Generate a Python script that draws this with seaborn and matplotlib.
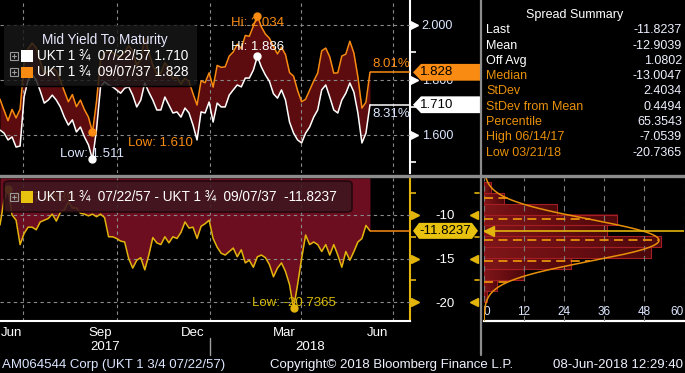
import numpy as np
import pandas as pd
import matplotlib
matplotlib.use("Agg")
import matplotlib.pyplot as plt
from matplotlib.patches import Polygon, FancyBboxPatch, Rectangle
from matplotlib.lines import Line2D
from matplotlib.colors import LinearSegmentedColormap
from matplotlib.ticker import FixedLocator, MultipleLocator
import seaborn as sns

# ---------------- data ----------------
first_date = "2017-06-08"
last_date = "2018-06-08"

ukt_2057 = [1.618, 1.607, 1.582, 1.593, 1.556, 1.560, 1.740, 1.800, 1.820, 1.800,
            1.760, 1.716, 1.727, 1.745, 1.727, 1.702, 1.665, 1.636, 1.655, 1.611,
            1.629, 1.593, 1.564, 1.511, 1.620, 1.775, 1.793, 1.782, 1.775, 1.764,
            1.752, 1.770, 1.775, 1.745, 1.702, 1.727, 1.789, 1.756, 1.727, 1.691,
            1.691, 1.738, 1.709, 1.680, 1.684, 1.665, 1.698, 1.680, 1.636, 1.582,
            1.684, 1.680, 1.720, 1.647, 1.716, 1.702, 1.702, 1.745, 1.764, 1.782,
            1.775, 1.807, 1.807, 1.836, 1.886, 1.847, 1.818, 1.795, 1.750, 1.734,
            1.764, 1.727, 1.647, 1.607, 1.582, 1.571, 1.607, 1.629, 1.665, 1.691,
            1.764, 1.782, 1.738, 1.691, 1.680, 1.727, 1.752, 1.789, 1.756, 1.680,
            1.571, 1.607, 1.710]

ukt_2037 = [1.730, 1.690, 1.652, 1.693, 1.662, 1.694, 1.861, 1.914, 1.934, 1.917,
            1.868, 1.822, 1.831, 1.844, 1.834, 1.799, 1.759, 1.721, 1.747, 1.703,
            1.727, 1.692, 1.665, 1.610, 1.722, 1.874, 1.896, 1.907, 1.900, 1.891,
            1.882, 1.901, 1.925, 1.906, 1.854, 1.876, 1.952, 1.902, 1.853, 1.823,
            1.825, 1.863, 1.841, 1.805, 1.811, 1.785, 1.806, 1.795, 1.750, 1.709,
            1.797, 1.790, 1.826, 1.774, 1.853, 1.846, 1.848, 1.887, 1.902, 1.930,
            1.915, 1.962, 1.959, 1.996, 2.034, 1.993, 1.967, 1.952, 1.921, 1.895,
            1.919, 1.892, 1.827, 1.814, 1.762, 1.721, 1.730, 1.763, 1.796, 1.825,
            1.906, 1.916, 1.884, 1.825, 1.826, 1.887, 1.894, 1.941, 1.898, 1.811,
            1.698, 1.719, 1.828]

spread_bp = [-11.15, -8.3, -7.0539, -10.0, -10.6, -13.4, -12.1, -11.4, -11.4, -11.7,
             -10.8, -10.6, -10.4, -9.9, -10.7, -9.7, -9.4, -8.5, -9.2, -9.2,
             -9.8, -9.9, -10.1, -9.9, -10.2, -9.9, -10.3, -12.5, -12.5, -12.7,
             -13.0, -13.1, -15.0, -16.1, -15.2, -14.9, -16.3, -14.6, -12.6, -13.2,
             -13.4, -12.5, -13.2, -12.5, -12.7, -12.0, -10.8, -11.5, -11.4, -12.7,
             -11.3, -11.0, -10.6, -12.7, -13.7, -14.4, -14.6, -14.2, -13.8, -14.8,
             -14.0, -15.5, -15.2, -16.0, -14.8, -14.6, -14.9, -15.7, -17.1, -16.1,
             -15.5, -16.5, -18.0, -20.7365, -18.0, -15.0, -12.3, -13.4, -13.1, -13.4,
             -14.2, -13.4, -14.6, -13.4, -14.6, -16.0, -14.2, -15.2, -14.2, -13.1,
             -12.7, -11.2, -11.8237]

hist_edges = [-19.95, -18.7, -17.45, -16.2, -14.95, -13.7, -12.45, -11.2, -9.95, -8.7, -7.45, -6.2]
hist_counts = [1, 4, 12, 26, 50, 53, 37, 40, 22, 6, 2]

spread_mean = -12.9039
spread_sd = 2.4034
spread_last = -11.8237

summary_labels = ["Last", "Mean", "Off Avg", "Median", "StDev", "StDev from Mean",
                  "Percentile", "High 06/14/17", "Low 03/21/18"]
summary_values = ["-11.8237", "-12.9039", "1.0802", "-13.0047", "2.4034", "0.4494",
                  "65.3543", "-7.0539", "-20.7365"]
summary_is_orange = [False, False, False, True, True, True, True, True, True]

pct_2037 = "8.01%"
pct_2057 = "8.31%"

month_label_dates = ["2017-06-19", "2017-09-15", "2017-12-15", "2018-03-15", "2018-06-15"]
month_labels = ["Jun", "Sep", "Dec", "Mar", "Jun"]
year_labels = ["2017", "2018"]
yield_ticks = [1.6, 1.8, 2.0]
yield_ticklabels = ["1.600", "1.800", "2.000"]
yield_minor = [1.5, 1.7, 1.9]
spread_ticks = [-20, -15, -10]
spread_ticklabels = ["-20", "-15", "-10"]
spread_minor = [-17.5, -12.5, -7.5]
count_ticks = [0, 12, 24, 36, 48, 60]

legend_title = "Mid Yield To Maturity"
legend_57 = "UKT 1 \u00be  07/22/57 1.710"
legend_37 = "UKT 1 \u00be  09/07/37 1.828"
legend_spread = "UKT 1 \u00be  07/22/57 - UKT 1 \u00be  09/07/37  -11.8237"

# ---------------- style ----------------
ORANGE = "#f98b12"
YELLOW = "#e2b40c"
YBOX = "#e8c20e"
FILL_TOP = "#5c0c0e"
MAROON = "#6c0e1f"
GRID = "#8a8a8a"
LBLUE = "#dce6ff"
TORANGE = "#e8900a"
SEP = "#8c8c8c"

sns.set_theme(style="dark", rc={
    "figure.facecolor": "black", "axes.facecolor": "black", "savefig.facecolor": "black",
    "text.color": "white", "axes.labelcolor": "white", "xtick.color": "white",
    "ytick.color": "white", "axes.edgecolor": "white", "axes.grid": False,
})
plt.rcParams["font.family"] = ["Liberation Sans", "DejaVu Sans"]
FS = 9
FSL = 9.8   # legend text
FSF = 9.5   # footer / annotations

W, H = 685, 373
fig = plt.figure(figsize=(W / 100, H / 100), dpi=100, facecolor="black")


def fx(p):
    return p / W


def fy(p):
    return 1 - p / H


AXW = 410.0
ax_top = fig.add_axes([0, fy(173), fx(AXW), 173 / H])
ax_bot = fig.add_axes([0, fy(321), fx(AXW), (321 - 178) / H])
ax_hist = fig.add_axes([fx(484), fy(321), fx(684) - fx(484), (321 - 178) / H])
for ax in (ax_top, ax_bot, ax_hist):
    ax.set_facecolor("black")
    for s in ax.spines.values():
        s.set_visible(False)
    ax.set_axisbelow(False)

df = pd.DataFrame({
    "date": pd.date_range(first_date, last_date, periods=len(spread_bp)),
    "ukt57": ukt_2057, "ukt37": ukt_2037, "spread": spread_bp,
})
x0 = pd.Timestamp(first_date)
x1 = x0 + pd.Timedelta(days=404.5)
quarter_starts = pd.date_range("2017-07-01", "2018-07-01", freq="QS")
month_starts = pd.date_range("2017-07-01", "2018-07-01", freq="MS")
last_dt = df["date"].iloc[-1]

# ---------------- top panel ----------------
ax_top.set_xlim(x0, x1)
ax_top.set_ylim(1.4618, 2.0909)
ax_top.fill_between(df["date"], df["ukt57"], df["ukt37"], color=FILL_TOP, lw=0, zorder=1)
sns.lineplot(data=df, x="date", y="ukt37", ax=ax_top, color=ORANGE, lw=1.1, zorder=3)
sns.lineplot(data=df, x="date", y="ukt57", ax=ax_top, color="white", lw=1.1, zorder=4)
ax_top.set(xlabel="", ylabel="")
ax_top.set_xticks([])
for d in quarter_starts:
    ax_top.axvline(d, color=GRID, lw=0.8, ls=(0, (3, 3)), zorder=2)
ax_top.yaxis.tick_right()
ax_top.set_yticks(yield_ticks)
ax_top.set_yticklabels(yield_ticklabels)
ax_top.yaxis.set_minor_locator(FixedLocator(yield_minor))
ax_top.tick_params(axis="y", which="major", length=0, pad=31, labelsize=FS, labelcolor=LBLUE)
ax_top.tick_params(axis="y", which="minor", length=4, width=1.2, color="white", direction="out")
plt.setp(ax_top.get_yticklabels(), ha="right")
ax_top.yaxis.grid(True, which="major", color=GRID, lw=0.8, ls=(0, (3, 3)))
ax_top.spines["right"].set_visible(True)
ax_top.spines["right"].set_color("white")
ax_top.spines["right"].set_linewidth(1.5)
ytr = ax_top.get_yaxis_transform()
ax_top.plot([414 / AXW] * 3, yield_ticks, transform=ytr, marker=">", ls="none",
            color="white", ms=5.5, clip_on=False, zorder=5)

# last value lines and percent labels
ax_top.hlines([ukt_2037[-1]], last_dt, x1, color=ORANGE, lw=1.1, zorder=3)
ax_top.hlines([ukt_2057[-1]], last_dt, x1, color="white", lw=1.1, zorder=3)
ax_top.annotate(pct_2037, xy=(1.0, ukt_2037[-1]), xycoords=ytr, xytext=(0, 1.5),
                textcoords="offset points", ha="right", va="bottom", color=ORANGE, fontsize=FSF)
ax_top.annotate(pct_2057, xy=(1.0, ukt_2057[-1]), xycoords=ytr, xytext=(0, -2),
                textcoords="offset points", ha="right", va="top", color=LBLUE, fontsize=FSF)


def value_box(ax, value, text, face, ax_px_h, half_px, pts_px, text_x_px, ha):
    y0, y1 = ax.get_ylim()
    h = half_px * (y1 - y0) / ax_px_h
    pts = [(px / AXW, value + dy * h) for px, dy in pts_px]
    poly = Polygon(pts, closed=True, transform=ax.get_yaxis_transform(), facecolor=face,
                   edgecolor="none", clip_on=False, zorder=6)
    ax.add_patch(poly)
    ax.text(text_x_px / AXW, value, text, transform=ax.get_yaxis_transform(), ha=ha,
            va="center", color="black", fontsize=FSF, clip_on=False, zorder=7)


arrow_box = [(413, 0), (421, 1), (481, 1), (481, -1), (421, -1)]
value_box(ax_top, ukt_2037[-1], f"{ukt_2037[-1]:.3f}", ORANGE, 173, 8.4, arrow_box, 420, "left")
value_box(ax_top, ukt_2057[-1], f"{ukt_2057[-1]:.3f}", "white", 173, 8.4, arrow_box, 420, "left")

# hi / low markers
i_hi37 = int(np.argmax(ukt_2037)); i_lo37 = int(np.argmin(ukt_2037))
i_hi57 = int(np.argmax(ukt_2057)); i_lo57 = int(np.argmin(ukt_2057))
d = df["date"]
ax_top.plot([d[i_hi37]], [ukt_2037[i_hi37]], "o", color=ORANGE, ms=5, zorder=8)
ax_top.annotate(f"Hi: {ukt_2037[i_hi37]:.3f}", (d[i_hi37], ukt_2037[i_hi37]), xytext=(0, -5),
                textcoords="offset points", ha="center", va="center", color=ORANGE, fontsize=FSF, zorder=7)
ax_top.plot([d[i_hi57]], [ukt_2057[i_hi57]], "o", color="white", ms=5, zorder=8)
ax_top.annotate(f"Hi: {ukt_2057[i_hi57]:.3f}", (d[i_hi57], ukt_2057[i_hi57]), xytext=(0, 6.5),
                textcoords="offset points", ha="center", va="center", color="white", fontsize=FSF, zorder=7)
ax_top.plot([d[i_lo57]], [ukt_2057[i_lo57]], "o", color="white", ms=5, zorder=8)
ax_top.annotate(f"Low: {ukt_2057[i_lo57]:.3f}", (d[i_lo57], ukt_2057[i_lo57]), xytext=(0, 3.6),
                textcoords="offset points", ha="center", va="center", color=LBLUE, fontsize=FSF, zorder=7)
ax_top.plot([d[i_lo37]], [ukt_2037[i_lo37]], "o", color=ORANGE, ms=5, zorder=8)
ax_top.annotate(f"Low: {ukt_2037[i_lo37]:.3f}", (d[i_lo37], ukt_2037[i_lo37]), xytext=(49, -8),
                textcoords="offset points", ha="center", va="center", color=ORANGE, fontsize=FSF, zorder=7)

# ---------------- bottom panel ----------------
ax_bot.set_xlim(x0, x1)
ax_bot.set_ylim(-22.18, -5.75)
ytop = ax_bot.get_ylim()[1]
ax_bot.fill_between(df["date"], df["spread"], ytop, color=MAROON, lw=0, zorder=1)
sns.lineplot(data=df, x="date", y="spread", ax=ax_bot, color=YELLOW, lw=1.1, zorder=3)
ax_bot.set(xlabel="", ylabel="")
for dq in quarter_starts:
    ax_bot.axvline(dq, color=GRID, lw=0.8, ls=(0, (3, 3)), zorder=2)
ax_bot.yaxis.tick_right()
ax_bot.set_yticks(spread_ticks)
ax_bot.set_yticklabels(spread_ticklabels)
ax_bot.yaxis.set_minor_locator(FixedLocator(spread_minor))
ax_bot.tick_params(axis="y", which="major", length=0, pad=32, labelsize=FSF, labelcolor="white")
ax_bot.tick_params(axis="y", which="minor", length=4, width=1.2, color=YELLOW, direction="out")
plt.setp(ax_bot.get_yticklabels(), ha="right")
ax_bot.yaxis.grid(True, which="major", color=GRID, lw=0.8, ls=(0, (3, 3)))
ax_bot.set_xticks(pd.to_datetime(month_label_dates))
ax_bot.set_xticklabels(month_labels)
ax_bot.xaxis.set_minor_locator(FixedLocator(matplotlib.dates.date2num(month_starts)))
ax_bot.tick_params(axis="x", which="major", length=0, pad=4, labelsize=FSF, labelcolor="white")
ax_bot.tick_params(axis="x", which="minor", length=3, width=1, color="white", direction="out")
ax_bot.xaxis.grid(False)
ax_bot.spines["right"].set_visible(True)
ax_bot.spines["right"].set_color(YELLOW)
ax_bot.spines["right"].set_linewidth(1.5)
ax_bot.spines["bottom"].set_visible(True)
ax_bot.spines["bottom"].set_color("white")
ax_bot.spines["bottom"].set_linewidth(1.5)
ybt = ax_bot.get_yaxis_transform()
ax_bot.plot([415 / AXW] * 3, spread_ticks, transform=ybt, marker=">", ls="none",
            color=YELLOW, ms=5.5, clip_on=False, zorder=5)
ax_bot.plot([474 / AXW] * 3, spread_ticks, transform=ybt, marker="<", ls="none",
            color=YELLOW, ms=5.5, clip_on=False, zorder=5)
for m in spread_minor:
    ax_bot.plot([475 / AXW, 479 / AXW], [m, m], transform=ybt, color=YELLOW, lw=1.2,
                clip_on=False, zorder=5)
ax_bot.hlines([spread_last], last_dt, x1, color=ORANGE, lw=1.1, zorder=3)
value_box(ax_bot, spread_last, f"{spread_last:.4f}", YBOX, 143, 8.0,
          [(413, 0), (419, 1), (472, 1), (478, 0), (472, -1), (419, -1)], 445, "center")

# year labels and separator
xt = ax_bot.get_xaxis_transform()
jan18 = pd.Timestamp("2018-01-01")
ax_bot.text(x0 + (jan18 - x0) / 2, -0.182, year_labels[0], transform=xt, ha="center",
            va="center", color="white", fontsize=FSF)
ax_bot.text(jan18 + (x1 - jan18) / 2, -0.182, year_labels[1], transform=xt, ha="center",
            va="center", color="white", fontsize=FSF)
ax_bot.plot([jan18, jan18], [-0.119, -0.238], transform=xt, color="#a0a0a0", lw=1, clip_on=False)

# spread hi / low
i_hs = int(np.argmax(spread_bp)); i_ls = int(np.argmin(spread_bp))
ax_bot.plot([d[i_ls]], [spread_bp[i_ls]], "o", color=YELLOW, ms=5, zorder=8)
ax_bot.annotate(f"Low: {spread_bp[i_ls]:.4f}", (d[i_ls], spread_bp[i_ls]), xytext=(0, 3.6),
                textcoords="offset points", ha="center", va="center", color="#d6b800", fontsize=FSF, zorder=7)
ax_bot.plot([d[i_hs]], [spread_bp[i_hs]], "o", color=YELLOW, ms=5, zorder=8)
ax_bot.annotate(f"Hi: {spread_bp[i_hs]:.4f}", (d[i_hs], spread_bp[i_hs]), xytext=(0.5, -6.5),
                textcoords="offset points", ha="left", va="center", color="#d6b800", fontsize=FSF, zorder=7)

# ---------------- histogram ----------------
ax_hist.set_xlim(0, 60)
ax_hist.set_ylim(ax_bot.get_ylim())
edges = np.array(hist_edges)
bar_cmap = LinearSegmentedColormap.from_list("bars", ["#7e1619", "#6a0e12", "#4c080b"])
grad = np.linspace(0, 1, 64).reshape(1, -1)
for lo, hi, c in zip(edges[:-1], edges[1:], hist_counts):
    ax_hist.imshow(grad, cmap=bar_cmap, aspect="auto", extent=[0, c, lo, hi],
                   interpolation="bilinear", zorder=1)
ax_hist.barh(edges[:-1], hist_counts, height=np.diff(edges), align="edge",
             facecolor="none", edgecolor="#a31f24", lw=0.8, zorder=1.5)
ax_hist.set_xlim(0, 60)
ax_hist.set_ylim(ax_bot.get_ylim())
yy = np.linspace(-22.2, -5.7, 400)
bw = float(np.mean(np.diff(edges)))
nobs = sum(hist_counts)


def fitted(y):
    return nobs * bw / (spread_sd * np.sqrt(2 * np.pi)) * np.exp(-0.5 * ((y - spread_mean) / spread_sd) ** 2)


ax_hist.plot(fitted(yy), yy, color=TORANGE, lw=1.1, zorder=4)
levels = spread_mean + spread_sd * np.array([-2, -1, 0, 1, 2])
ax_hist.hlines(levels, 0, fitted(levels), colors=TORANGE, lw=1.3, linestyles=(0, (5, 3)), zorder=4)
ax_hist.axhline(spread_last, color=YELLOW, lw=1.2, zorder=5)
ax_hist.plot([1.6], [spread_last], marker="<", color=YELLOW, ms=7, zorder=6, clip_on=False)
ax_hist.set_xticks(count_ticks)
ax_hist.set_xticklabels([str(c) for c in count_ticks])
ax_hist.xaxis.set_minor_locator(MultipleLocator(6))
ax_hist.set_yticks([])
ax_hist.tick_params(axis="x", which="both", direction="in", length=3, width=1, color="white",
                    pad=-10.5, labelsize=FS - 0.5, labelcolor=LBLUE)
tl = ax_hist.get_xticklabels()
tl[0].set_ha("left"); tl[-1].set_ha("right")
ax_hist.xaxis.grid(True, which="major", color="#7a7a7a", lw=0.8, ls=(0, (5, 4)), zorder=2)
ax_hist.spines["bottom"].set_visible(True)
ax_hist.spines["bottom"].set_color("white")
ax_hist.spines["bottom"].set_linewidth(1.6)

# ---------------- figure-level decorations ----------------
fig.add_artist(Line2D([0, 1], [fy(175.5), fy(175.5)], transform=fig.transFigure, color=SEP, lw=2.4))
fig.add_artist(Line2D([fx(481), fx(481)], [fy(0), fy(355)], transform=fig.transFigure, color=SEP, lw=1.6))


def plus_icon(xc, yc):
    fig.add_artist(Rectangle((fx(xc - 4), fy(yc + 4)), 8 / W, 8 / H, transform=fig.transFigure,
                             facecolor="none", edgecolor="#9a9a9a", lw=0.8))
    fig.add_artist(Line2D([fx(xc - 2.2), fx(xc + 2.2)], [fy(yc), fy(yc)], transform=fig.transFigure,
                          color="#9a9a9a", lw=0.8))
    fig.add_artist(Line2D([fx(xc), fx(xc)], [fy(yc - 2.2), fy(yc + 2.2)], transform=fig.transFigure,
                          color="#9a9a9a", lw=0.8))


# top legend
fig.add_artist(FancyBboxPatch((fx(4), fy(86)), fx(197) - fx(4), (86 - 25) / H,
                              boxstyle="round,pad=0,rounding_size=0.006", transform=fig.transFigure,
                              facecolor="#181818", edgecolor="none", alpha=0.82))
fig.add_artist(Line2D([fx(4), fx(197)], [fy(86), fy(86)], transform=fig.transFigure, color="black", lw=1))
fig.text(fx(105), fy(40), legend_title, ha="center", va="center", color="#e8e8ff", fontsize=FSL)
for yc, col, lab in [(56, "white", legend_57), (72, ORANGE, legend_37)]:
    plus_icon(14, yc)
    fig.add_artist(Rectangle((fx(21), fy(yc + 5.5)), 12 / W, 11 / H, transform=fig.transFigure,
                             facecolor=col, edgecolor="none"))
    fig.text(fx(37), fy(yc), lab, ha="left", va="center", color="white", fontsize=FSL)

# bottom legend
fig.add_artist(FancyBboxPatch((fx(4), fy(212)), fx(352) - fx(4), (212 - 181) / H,
                              boxstyle="round,pad=0,rounding_size=0.008", transform=fig.transFigure,
                              facecolor="#3e1820", edgecolor="#1c060a", lw=1.2, alpha=0.88))
plus_icon(14, 197)
fig.add_artist(Rectangle((fx(21), fy(203)), 12 / W, 12 / H, transform=fig.transFigure,
                         facecolor=YBOX, edgecolor="none"))
fig.text(fx(37), fy(197), legend_spread, ha="left", va="center", color="white", fontsize=FSL)

# summary table
fig.text(fx(575), fy(15), "Spread Summary", ha="center", va="center", color="white", fontsize=FS)
for i, (lab, val, orng) in enumerate(zip(summary_labels, summary_values, summary_is_orange)):
    yc = 30.3 + 15.3 * i
    fig.text(fx(486), fy(yc), lab, ha="left", va="center", color=TORANGE if orng else "white", fontsize=FS)
    fig.text(fx(682), fy(yc), val, ha="right", va="center", color="#eef2ff", fontsize=FS)

# footer
fig.text(fx(2), fy(365), "AM064544 Corp (UKT 1 3/4 07/22/57)", ha="left", va="center",
         color=LBLUE, fontsize=FSF)
fig.text(fx(270), fy(365), "Copyright\u00a9 2018 Bloomberg Finance L.P.", ha="left", va="center",
         color="#eef2ff", fontsize=FSF)
fig.text(fx(683), fy(365), "08-Jun-2018 12:29:40", ha="right", va="center", color="#eef2ff", fontsize=FSF)

fig.savefig("out.png", dpi=100, facecolor="black")
